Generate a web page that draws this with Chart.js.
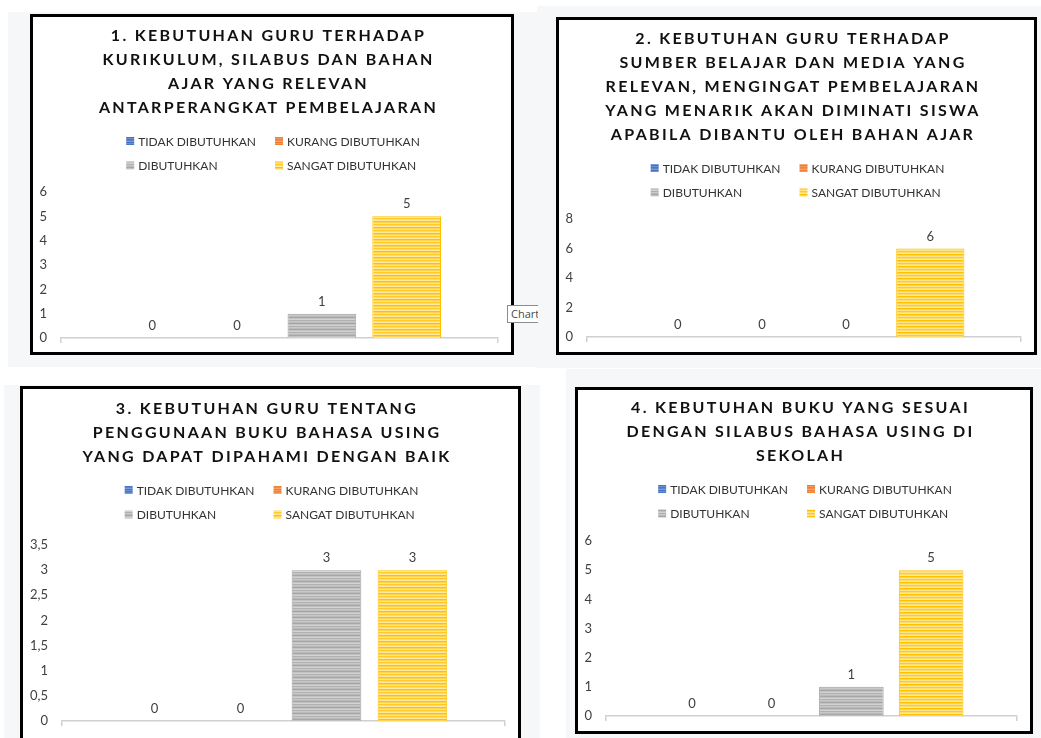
<!DOCTYPE html>
<html>
<head>
<meta charset="utf-8">
<script src="https://cdn.jsdelivr.net/npm/chart.js@4.4.1/dist/chart.umd.min.js"></script>
<style>
  body { margin: 0; width: 1041px; height: 738px; overflow: hidden; background: #fff; position: relative; font-family: Lato, sans-serif; }
  .bg { position: absolute; background: #f6f7f9; }
  .panel { position: absolute; border: 3px solid #000; background: #fff; }
  .panel canvas { display: block; }
  .tip { position: absolute; z-index: 5; background: #fff; border: 1px solid #8c8c8c; border-right: none; overflow: hidden; white-space: nowrap;
         font: 11px "Open Sans", sans-serif; color: #4a4a4a; line-height: 16px; padding-left: 3px; }
</style>
</head>
<body>
<div class="bg" style="left:8px;top:12px;width:529px;height:355px"></div>
<div class="bg" style="left:537px;top:6px;width:504px;height:362px"></div>
<div class="bg" style="left:4px;top:385px;width:536px;height:353px"></div>
<div class="bg" style="left:566px;top:369px;width:475px;height:369px"></div>

<div class="panel" style="left:30px;top:14px;width:478px;height:335px"><canvas id="c1" width="478" height="335"></canvas></div>
<div class="panel" style="left:556px;top:17px;width:475px;height:332px"><canvas id="c2" width="475" height="332"></canvas></div>
<div class="panel" style="left:20px;top:386px;width:495px;height:354px"><canvas id="c3" width="495" height="354"></canvas></div>
<div class="panel" style="left:575px;top:387px;width:452px;height:341px"><canvas id="c4" width="452" height="341"></canvas></div>
<div class="tip" style="left:507px;top:305px;width:27px;height:16px">Chart</div>

<script>
// series / categories shared by all four charts
const seriesNames = ['TIDAK DIBUTUHKAN', 'KURANG DIBUTUHKAN', 'DIBUTUHKAN', 'SANGAT DIBUTUHKAN'];
const categories = [''];

// chart 1
const title1 = ['1. KEBUTUHAN GURU TERHADAP', 'KURIKULUM, SILABUS DAN BAHAN', 'AJAR YANG RELEVAN', 'ANTARPERANGKAT PEMBELAJARAN'];
const values1 = [0, 0, 1, 5];
const yTicks1 = [0, 1, 2, 3, 4, 5, 6];

// chart 2
const title2 = ['2. KEBUTUHAN GURU TERHADAP', 'SUMBER BELAJAR DAN MEDIA YANG', 'RELEVAN, MENGINGAT PEMBELAJARAN', 'YANG MENARIK AKAN DIMINATI SISWA', 'APABILA DIBANTU OLEH BAHAN AJAR'];
const values2 = [0, 0, 0, 6];
const yTicks2 = [0, 2, 4, 6, 8];

// chart 3
const title3 = ['3. KEBUTUHAN GURU TENTANG', 'PENGGUNAAN BUKU BAHASA USING', 'YANG DAPAT DIPAHAMI DENGAN BAIK'];
const values3 = [0, 0, 3, 3];
const yTicks3 = [0, 0.5, 1, 1.5, 2, 2.5, 3, 3.5];

// chart 4
const title4 = ['4. KEBUTUHAN BUKU YANG SESUAI', 'DENGAN SILABUS BAHASA USING DI', 'SEKOLAH'];
const values4 = [0, 0, 1, 5];
const yTicks4 = [0, 1, 2, 3, 4, 5, 6];

const FONT = 'Lato';
const TITLE_SIZE = 16, TITLE_LH = 24;
const TICK_SIZE = 13;

// striped fills like the excel texture
function stripes(rows) {
  const c = document.createElement('canvas');
  c.width = 4; c.height = rows.length;
  const g = c.getContext('2d');
  rows.forEach((col, i) => { g.fillStyle = col; g.fillRect(0, i, 4, 1); });
  return g.createPattern(c, 'repeat');
}
const fills = [
  stripes(['#4472c4', '#6d90d3', '#4a77c6', '#5a83cc', '#7b9ad8']),
  stripes(['#ed7d31', '#f29a5e', '#ee8238', '#f08d4a', '#f4a672']),
  stripes(['#a6a6a6', '#c2c2c2', '#d2d2d2', '#b0b0b0', '#c8c8c8', '#bababa']),
  stripes(['#ffc000', '#ffd54f', '#ffe48f', '#ffc928', '#ffdc6e', '#ffe9a3'])
];
const edges = ['#4472c4', '#ed7d31', '#a5a5a5', '#ffc000'];

const fmt = v => String(v).replace('.', ',');

// title with wide letter spacing
const spacedTitle = {
  id: 'spacedTitle',
  beforeDraw(chart) {
    const tb = chart.titleBlock;
    if (tb && !tb._spaced) {
      const draw = tb.draw;
      tb.draw = function () {
        chart.ctx.save();
        chart.ctx.letterSpacing = '2.3px';
        draw.apply(this, arguments);
        chart.ctx.restore();
      };
      tb._spaced = true;
    }
  }
};

// 2x2 legend grid under the title
const gridLegend = {
  id: 'gridLegend',
  afterDraw(chart) {
    const ctx = chart.ctx;
    const t = chart.options.plugins.title;
    const row1 = chart.titleBlock.top + t.padding.top + (t.text.length - 0.5) * TITLE_LH + 33;
    const row2 = row1 + 24.5;
    ctx.save();
    ctx.font = '12px ' + FONT;
    const w = seriesNames.map(n => ctx.measureText(n).width);
    const sq = 8, gap = 4, colGap = 19;
    const col1 = Math.max(w[0], w[2]) + sq + gap;
    const col2 = Math.max(w[1], w[3]) + sq + gap;
    const x0 = chart.width / 2 - (col1 + colGap + col2) / 2 + 1;
    seriesNames.forEach((n, i) => {
      const x = x0 + (i % 2) * (col1 + colGap);
      const y = i < 2 ? row1 : row2;
      ctx.fillStyle = chart.data.datasets[i].backgroundColor;
      ctx.fillRect(x, y - sq / 2, sq, sq);
      ctx.fillStyle = '#333333';
      ctx.textAlign = 'left';
      ctx.textBaseline = 'middle';
      ctx.fillText(n, x + sq + gap, y + 1);
    });
    ctx.restore();
  }
};

// value on top of each bar
const valueLabels = {
  id: 'valueLabels',
  afterDatasetsDraw(chart) {
    const ctx = chart.ctx;
    ctx.save();
    ctx.font = '13px ' + FONT;
    ctx.fillStyle = '#404040';
    ctx.textAlign = 'center';
    chart.data.datasets.forEach((ds, i) => {
      chart.getDatasetMeta(i).data.forEach((bar, j) => {
        ctx.fillText(fmt(ds.data[j]), bar.x, bar.y - 8);
      });
    });
    ctx.restore();
  }
};

function makeChart(id, titleLines, values, yTicks, padTop, titleGap, padBottom) {
  return new Chart(document.getElementById(id), {
    type: 'bar',
    data: {
      labels: categories,
      datasets: seriesNames.map((name, i) => ({
        label: name,
        data: [values[i]],
        backgroundColor: fills[i],
        borderColor: edges[i],
        borderWidth: { left: 1, right: 1, top: 1, bottom: 0 },
        categoryPercentage: 0.776,
        barPercentage: 0.81
      }))
    },
    options: {
      responsive: false,
      animation: false,
      events: [],
      layout: { padding: { left: 6, right: 13, top: 0, bottom: padBottom } },
      plugins: {
        legend: { display: false },
        tooltip: { enabled: false },
        title: {
          display: true,
          text: titleLines,
          color: '#111111',
          font: { family: FONT, size: TITLE_SIZE, weight: 'bold', lineHeight: TITLE_LH + 'px' },
          padding: { top: padTop, bottom: titleGap }
        }
      },
      scales: {
        x: {
          grid: { drawOnChartArea: false, drawTicks: true, tickLength: 5, color: '#d0d0d0', lineWidth: 1.5 },
          border: { display: true, color: '#d0d0d0', width: 1.5 },
          ticks: { display: false }
        },
        y: {
          min: yTicks[0],
          max: yTicks[yTicks.length - 1],
          afterBuildTicks: scale => { scale.ticks = yTicks.map(v => ({ value: v })); },
          afterFit: scale => {
            const ctx = scale.ctx;
            ctx.save();
            ctx.font = TICK_SIZE + 'px ' + FONT;
            const w = Math.max(...yTicks.map(v => ctx.measureText(fmt(v)).width));
            ctx.restore();
            scale.width = Math.ceil(w) + 14;
            // tick padding should not push the plot away from the frame
            scale.paddingTop = 0;
            scale.paddingBottom = 0;
          },
          grid: { display: false, drawTicks: false },
          border: { display: false },
          ticks: {
            padding: 14,
            color: '#404040',
            font: { family: FONT, size: TICK_SIZE },
            callback: fmt
          }
        }
      }
    },
    plugins: [spacedTitle, gridLegend, valueLabels]
  });
}

makeChart('c1', title1, values1, yTicks1, 7, 72, 9);
makeChart('c2', title2, values2, yTicks2, 7, 72, 10);
makeChart('c3', title3, values3, yTicks3, 8, 76, 17);
makeChart('c4', title4, values4, yTicks4, 6, 73, 10);
</script>
</body>
</html>
